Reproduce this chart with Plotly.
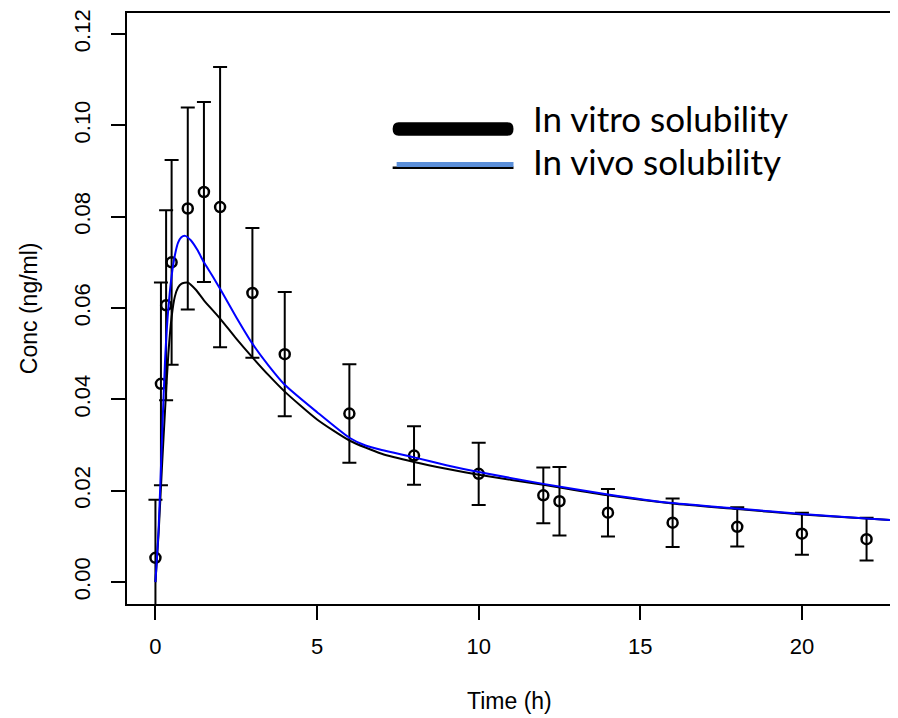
import plotly.graph_objects as go

# ---------------- data ----------------
time_obs = [0, 0.17, 0.33, 0.5, 1, 1.5, 2, 3, 4, 6, 8, 10, 12, 12.5, 14, 16, 18, 20, 22]
conc_obs = [0.0053, 0.0434, 0.0606, 0.0700, 0.0818, 0.0854, 0.0821, 0.0633, 0.0499,
            0.0369, 0.0277, 0.0237, 0.0190, 0.0177, 0.0152, 0.0130, 0.0121, 0.0106, 0.0094]
conc_sd = [0.0127, 0.0222, 0.0208, 0.0224, 0.0221, 0.0197, 0.0307, 0.0142, 0.0136,
           0.0108, 0.0064, 0.0068, 0.0061, 0.0075, 0.0052, 0.0053, 0.0043, 0.0046, 0.0047]

t_vitro = [0, 0.1, 0.2, 0.3, 0.4, 0.5, 0.6, 0.7, 0.8, 1.0, 1.25, 1.5, 2, 2.5, 3, 3.5, 4,
           5, 6, 7, 8, 9, 10, 12, 14, 16, 18, 20, 22, 22.9]
c_vitro = [0, 0.011, 0.025, 0.038, 0.050, 0.058, 0.0625, 0.0645, 0.0653, 0.0656, 0.0640,
           0.0617, 0.0577, 0.0533, 0.0492, 0.0453, 0.0417, 0.0356, 0.0310, 0.0281,
           0.0263, 0.0248, 0.0235, 0.0213, 0.0190, 0.0172, 0.0160, 0.0148, 0.0139, 0.0135]

t_vivo = [0, 0.1, 0.2, 0.3, 0.4, 0.5, 0.6, 0.7, 0.8, 0.92, 1.1, 1.3, 1.5, 1.75, 2, 2.5, 3,
          3.5, 4, 5, 6, 6.5, 7, 8, 9, 10, 12, 14, 16, 18, 20, 22, 22.9]
c_vivo = [0, 0.012, 0.031, 0.049, 0.060, 0.067, 0.0715, 0.0743, 0.0755, 0.0758, 0.0748,
          0.0727, 0.0700, 0.0672, 0.0642, 0.0580, 0.0522, 0.0474, 0.0432, 0.0372, 0.0316,
          0.0299, 0.0289, 0.0273, 0.0256, 0.0241, 0.0215, 0.0192, 0.0173, 0.0161, 0.0149,
          0.0139, 0.0135]

x_ticks = [0, 5, 10, 15, 20]
y_ticks = [0.00, 0.02, 0.04, 0.06, 0.08, 0.10, 0.12]
y_tick_labels = ["0.00", "0.02", "0.04", "0.06", "0.08", "0.10", "0.12"]
legend_labels = ["In vitro solubility", "In vivo solubility"]

# ---------------- layout helpers ----------------
OFF = 8                      # default body margin of the page
W, H = 898 - OFF, 718 - OFF  # figure size so that it fills the window
# plot area, in window pixels
L, R, T, B = 127, 896, 9, 604


def px(x):
    return (x - L) / (R - L)


def py(y):
    return (B - y) / (B - T)


fig = go.Figure()

fig.add_trace(go.Scatter(
    x=time_obs, y=conc_obs, mode="markers",
    marker=dict(symbol="circle-open", size=10, color="black", line=dict(width=2.5, color="black")),
    error_y=dict(type="data", array=conc_sd, symmetric=True, color="black", thickness=2, width=7),
    showlegend=False, hoverinfo="skip"))

fig.add_trace(go.Scatter(
    x=t_vitro, y=c_vitro, mode="lines", line=dict(color="black", width=2, shape="spline", smoothing=0.6),
    showlegend=False))
fig.add_trace(go.Scatter(
    x=t_vivo, y=c_vivo, mode="lines", line=dict(color="#0000FF", width=2, shape="spline", smoothing=0.6),
    showlegend=False))

axis_font = dict(family="Liberation Sans, Arial", size=22, color="black")

fig.update_layout(
    width=W, height=H,
    margin=dict(l=L - OFF, r=W - (R - OFF), t=T - OFF, b=H - (B - OFF)),
    paper_bgcolor="white", plot_bgcolor="white",
    xaxis=dict(range=[-0.88, 22.88], tickmode="array", tickvals=x_ticks,
               ticks="outside", ticklen=14, tickwidth=2, tickcolor="black",
               showline=True, linewidth=2, linecolor="black", mirror=True,
               showgrid=False, zeroline=False, tickfont=axis_font, ticklabelstandoff=8,
               ticklabeloverflow="allow"),
    yaxis=dict(range=[-0.0048, 0.1246], tickmode="array", tickvals=y_ticks, ticktext=y_tick_labels,
               ticks="outside", ticklen=14, tickwidth=2, tickcolor="black", tickangle=-90,
               showline=True, linewidth=2, linecolor="black", mirror=True,
               showgrid=False, zeroline=False, tickfont=axis_font, ticklabelstandoff=12,
               ticklabeloverflow="allow"),
)

# axis titles
fig.add_annotation(text="Time (h)", xref="paper", yref="paper", x=px(510), y=py(702),
                   xanchor="center", yanchor="middle", showarrow=False,
                   font=dict(family="Liberation Sans, Arial", size=23, color="black"))
fig.add_annotation(text="Conc (ng/ml)", xref="paper", yref="paper", x=px(29), y=py(306),
                   xanchor="center", yanchor="middle", showarrow=False, textangle=-90,
                   font=dict(family="Liberation Sans, Arial", size=23, color="black"))

# legend (drawn box-free, like the reference)
x0, x1, y0, y1, rr = 393, 514, 119, 132.5, 6
path = (f"M {px(x0+rr)},{py(y0)} L {px(x1-rr)},{py(y0)} Q {px(x1)},{py(y0)} {px(x1)},{py((y0+y1)/2)} "
        f"Q {px(x1)},{py(y1)} {px(x1-rr)},{py(y1)} L {px(x0+rr)},{py(y1)} "
        f"Q {px(x0)},{py(y1)} {px(x0)},{py((y0+y1)/2)} Q {px(x0)},{py(y0)} {px(x0+rr)},{py(y0)} Z")
fig.add_shape(type="path", path=path, xref="paper", yref="paper", fillcolor="black", line=dict(width=0))
fig.add_shape(type="rect", xref="paper", yref="paper", x0=px(393), x1=px(514), y0=py(163.5), y1=py(166),
              fillcolor="black", line=dict(width=0))
fig.add_shape(type="rect", xref="paper", yref="paper", x0=px(397), x1=px(514), y0=py(159), y1=py(164),
              fillcolor="#5B8FD9", line=dict(width=0))

for label, yc in zip(legend_labels, [115, 158.5]):
    fig.add_annotation(text=label, xref="paper", yref="paper", x=px(532), y=py(yc),
                       xanchor="left", yanchor="middle", showarrow=False,
                       font=dict(family="Lato", size=35, color="black"))

fig.write_html("out.html")
